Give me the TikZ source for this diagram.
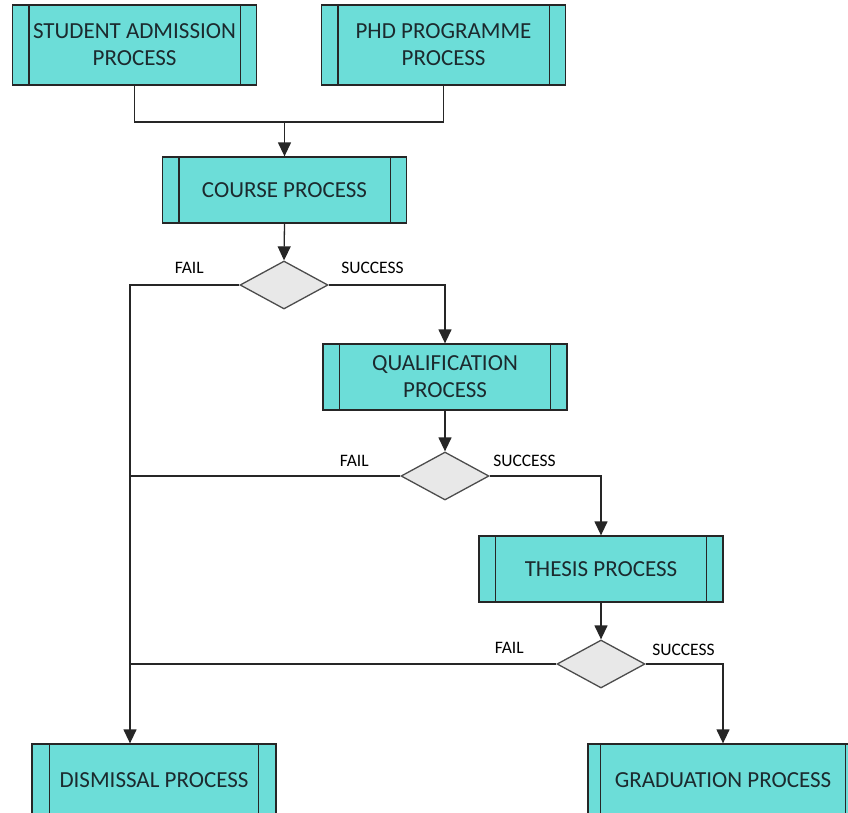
\documentclass[tikz,border=0pt]{standalone}
\usepackage{fontspec}
\setmainfont{Carlito}
\usetikzlibrary{shapes.geometric,arrows.meta,positioning}
\definecolor{boxfill}{RGB}{108,221,216}
\definecolor{diafill}{RGB}{232,232,232}
\definecolor{textcol}{RGB}{28,42,46}

\begin{document}
\begin{tikzpicture}[
x=1pt,y=-1pt,
line width=1.3pt,
proc/.style={
  draw=black!85,
  fill=boxfill,
  minimum width=244pt,
  minimum height=66pt,
  align=center,
  text=textcol,
  font=\fontsize{23}{27}\selectfont
},
dec/.style={
  draw=black!70,
  fill=diafill,
  diamond,
  inner sep=0pt,
  minimum width=88pt,
  minimum height=48pt
},
lbl/.style={
  text=black,
  inner sep=0pt,
  font=\fontsize{17.5}{19}\selectfont
},
arr/.style={-{Triangle[length=14pt,width=13pt]}}
]
\clip (0,0) rectangle (848,812);
\fill[white] (0,0) rectangle (848,812);

% process boxes
\node[proc,minimum height=80pt] (student) at (134.5,45)
  {STUDENT ADMISSION\\PROCESS};
\node[proc,minimum height=80pt] (phd) at (443.5,45)
  {PHD PROGRAMME\\PROCESS};
\node[proc] (course) at (284.5,190) {COURSE PROCESS};
\node[proc] (qual) at (445,377) {QUALIFICATION\\PROCESS};
\node[proc] (thesis) at (601,569) {THESIS PROCESS};
\node[proc,minimum height=72pt] (dismiss) at (154,780) {DISMISSAL PROCESS};
\node[proc,minimum width=270pt,minimum height=72pt] (grad) at (723,780)
  {GRADUATION PROCESS};

% inner side bars
\foreach \n/\d in {student/17pt,phd/17pt,course/17pt,qual/17pt,thesis/17pt,dismiss/18pt,grad/13pt}{
  \draw[black!85] ([xshift=\d]\n.north west) -- ([xshift=\d]\n.south west);
  \draw[black!85] ([xshift=-\d]\n.north east) -- ([xshift=-\d]\n.south east);
}

% decisions
\node[dec] (dec1) at (284,285) {};
\node[dec] (dec2) at (445,476) {};
\node[dec] (dec3) at (601,664) {};

% labels
\node[lbl,anchor=south east] (fail1) at ([xshift=-35pt,yshift=11pt]dec1.west) {FAIL};
\node[lbl,anchor=south west] (succ1) at ([xshift=12pt,yshift=11pt]dec1.east) {SUCCESS};
\node[lbl,anchor=south east] (fail2) at ([xshift=-31pt,yshift=9pt]dec2.west) {FAIL};
\node[lbl,anchor=south west] (succ2) at ([xshift=3pt,yshift=9pt]dec2.east) {SUCCESS};
\node[lbl,anchor=south east] (fail3) at ([xshift=-32pt,yshift=10pt]dec3.west) {FAIL};
\node[lbl,anchor=south west] (succ3) at ([xshift=6pt,yshift=8pt]dec3.east) {SUCCESS};

% joins
\coordinate (merge) at (284.5,122);
\coordinate (failtop) at (130,285);

\draw[black!85] (student.south) |- (merge);
\draw[black!85] (phd.south) |- (merge);
\draw[black!85,arr] (merge) -- (course.north);
\draw[black!85,arr] (course.south) -- (dec1.north);
\draw[black!85,arr] (dec1.east) -| (qual.north);
\draw[black!85,arr] (qual.south) -- (dec2.north);
\draw[black!85,arr] (dec2.east) -| (thesis.north);
\draw[black!85,arr] (thesis.south) -- (dec3.north);
\draw[black!85,arr] (dec3.east) -| (grad.north);

\draw[black!85,arr] (dec1.west) -- (failtop) -- (failtop |- dismiss.north);
\draw[black!85] (dec2.west) -- (dec2.west -| failtop);
\draw[black!85] (dec3.west) -- (dec3.west -| failtop);
\end{tikzpicture}
\end{document}
